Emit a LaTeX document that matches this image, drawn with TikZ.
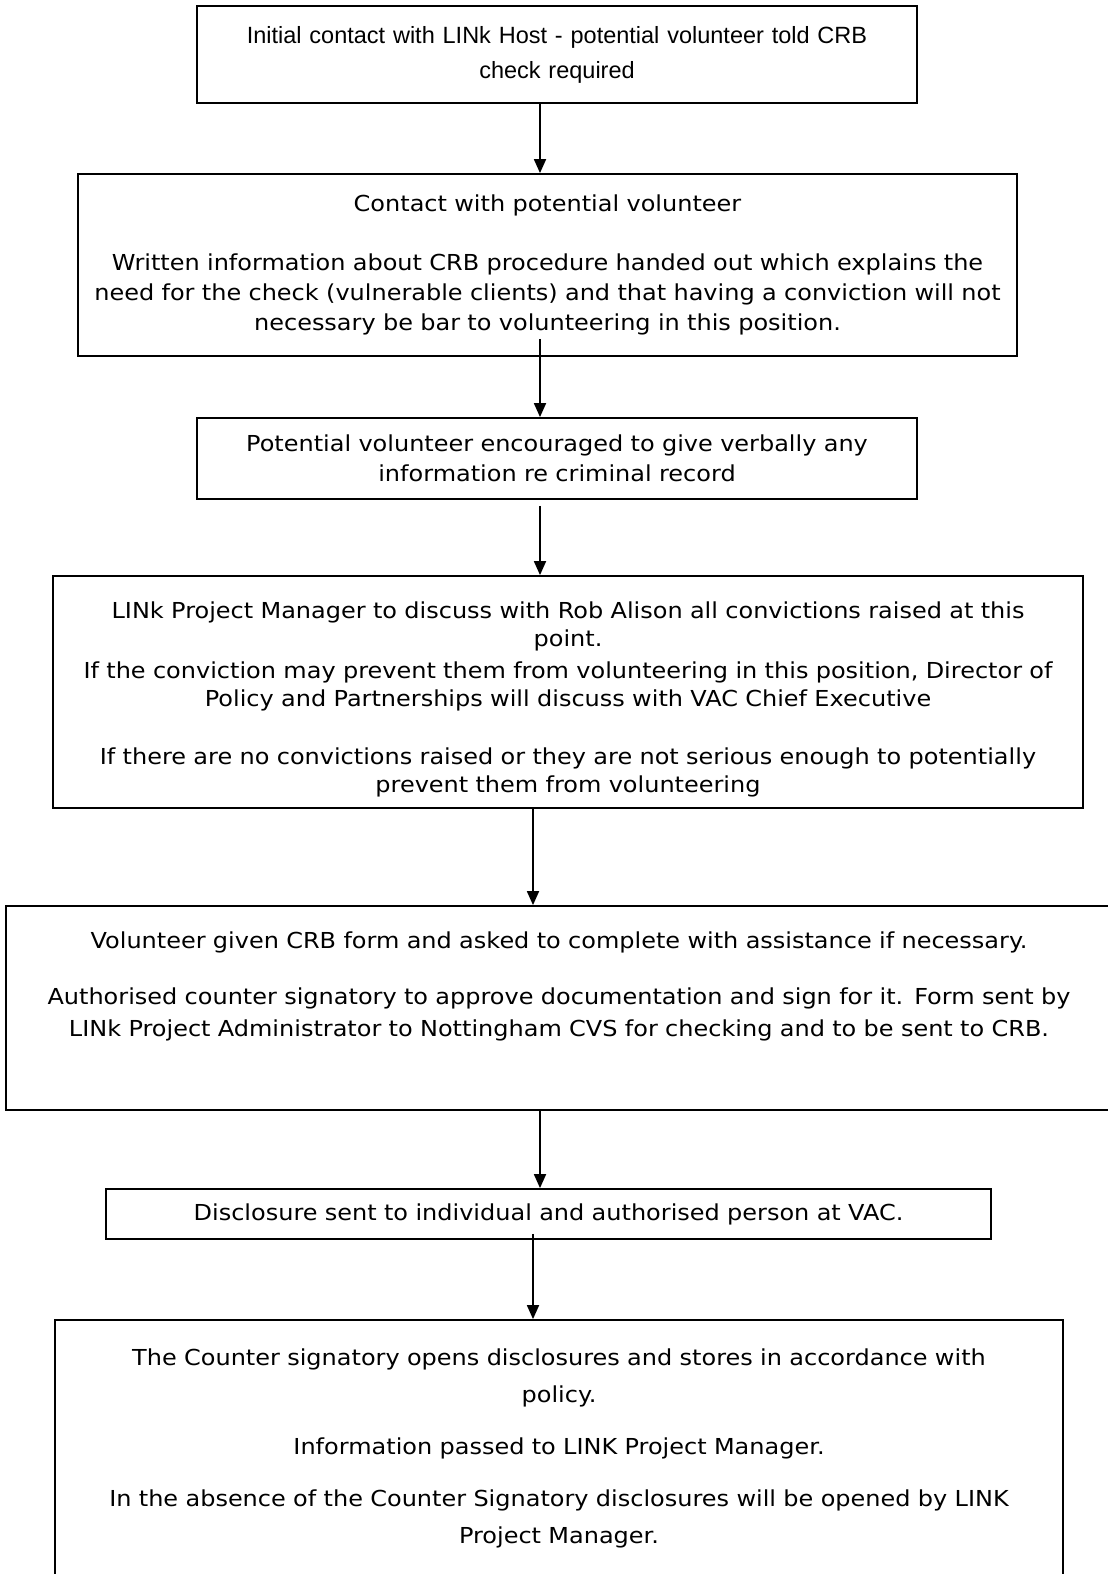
\documentclass[tikz,border=0pt]{standalone}
\usepackage{fontspec}
\setmainfont{DejaVu Sans}[FakeStretch=1.09]
\newfontfamily\arialfont{Liberation Sans}
\usetikzlibrary{arrows.meta, positioning}

\begin{document}
\begin{tikzpicture}[x=1pt, y=-1pt, >={Triangle[length=14pt, width=12pt]},
    stepbox/.style={draw, line width=1.8pt, align=center, inner sep=0pt,
        font=\fontsize{22}{30}\selectfont},
    flow/.style={->, line width=1.8pt}]

    \useasboundingbox (0,0) rectangle (1108,1574);

    % the two columns the arrows run down:
    \coordinate (colA) at (540,0);
    \coordinate (colB) at (533,0);

    % draw the boxes from top to bottom:
    \node[stepbox, minimum width=720pt, minimum height=97pt, text width=715pt,
        font=\arialfont\fontsize{23.5}{35}\selectfont] (host) at (557,54.5)
        {Initial contact with LINk Host - potential volunteer told CRB\\ check required};

    \node[stepbox, minimum width=939pt, minimum height=182pt, text width=935pt] (contact) at (547.5,265)
        {Contact with potential volunteer\\[29pt]
         Written information about CRB procedure handed out which explains the\\
         need for the check (vulnerable clients) and that having a conviction will not\\
         necessary be bar to volunteering in this position.};

    \node[stepbox, minimum width=720pt, minimum height=81pt, text width=715pt] (verbal) at (557,458.5)
        {Potential volunteer encouraged to give verbally any\\ information re criminal record};

    \node[stepbox, minimum width=1030pt, minimum height=232pt, text width=1028pt,
        font=\fontsize{22}{28}\selectfont] (manager) at (568,692)
        {\rule{0pt}{31pt}LINk Project Manager to discuss with Rob Alison all convictions raised at this\\
         point.\\[4pt]
         If the conviction may prevent them from volunteering in this position, Director of\\
         Policy and Partnerships will discuss with VAC Chief Executive\\[30pt]
         If there are no convictions raised or they are not serious enough to potentially\\
         prevent them from volunteering};

    \node[stepbox, minimum width=1106pt, minimum height=204pt, text width=1100pt,
        font=\fontsize{22}{32}\selectfont] (form) at (559,1008)
        {Volunteer given CRB form and asked to complete with assistance if necessary.\\[24pt]
         Authorised counter signatory to approve documentation and sign for it. Form sent by\\
         LINk Project Administrator to Nottingham CVS for checking and to be sent to CRB.\\[16pt]
         \mbox{}};

    \node[stepbox, minimum width=885pt, minimum height=50pt, text width=880pt] (disclosure) at (548.5,1214)
        {Disclosure sent to individual and authorised person at VAC.};

    \node[stepbox, minimum width=1008pt, minimum height=280pt, text width=1004pt,
        font=\fontsize{22}{37}\selectfont] (signatory) at (559,1460)
        {The Counter signatory opens disclosures and stores in accordance with\\
         policy.\\[15pt]
         Information passed to LINK Project Manager.\\[15pt]
         In the absence of the Counter Signatory disclosures will be opened by LINK\\
         Project Manager.\\[-9pt]
         \mbox{}};

    % draw the arrows between the boxes:
    \draw[flow] (host.south -| colA) -- (contact.north -| colA);
    \draw[flow] (contact.south -| colA) ++(0,-18) -- (verbal.north -| colA);
    \draw[flow] (verbal.south -| colA) ++(0,6) -- (manager.north -| colA);
    \draw[flow] (manager.south -| colB) -- (form.north -| colB);
    \draw[flow] (form.south -| colA) -- (disclosure.north -| colA);
    \draw[flow] (disclosure.south -| colB) ++(0,-6) -- (signatory.north -| colB);

\end{tikzpicture}
\end{document}
